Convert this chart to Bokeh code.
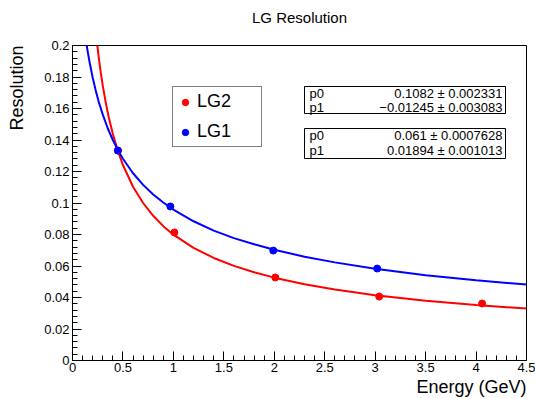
import math
from bokeh.plotting import figure
from bokeh.models import (Range1d, SingleIntervalTicker, CustomJSTickFormatter, Label,
                          BoxAnnotation, Legend, LegendItem, Title)
from bokeh.embed import file_html
from bokeh.resources import INLINE

# ---- data ----
lg2_energy = [0.45, 1.01, 2.01, 3.04, 4.06]
lg2_res = [0.1333, 0.0813, 0.0527, 0.0406, 0.0362]
lg1_energy = [0.45, 0.97, 1.99, 3.02]
lg1_res = [0.1333, 0.0978, 0.0698, 0.0584]

# fit curves
lg2_fit_energy = [0.24, 0.26, 0.28, 0.30, 0.33, 0.36, 0.40, 0.45, 0.50, 0.6, 0.7, 0.8, 0.9,
                  1.0, 1.2, 1.4, 1.6, 1.8, 2.0, 2.3, 2.6, 3.0, 3.5, 4.0, 4.5]
lg2_fit_res = [0.2034, 0.1925, 0.1829, 0.1745, 0.1636, 0.1543, 0.1438, 0.1330, 0.1241, 0.1103,
               0.1000, 0.0919, 0.0853, 0.0799, 0.0715, 0.0651, 0.0601, 0.0560, 0.0526, 0.0484,
               0.0451, 0.0415, 0.0380, 0.0352, 0.0330]
lg1_fit_energy = [0.13, 0.15, 0.17, 0.20, 0.23, 0.26, 0.30, 0.35, 0.40, 0.45, 0.50, 0.6, 0.7,
                  0.8, 0.9, 1.0, 1.2, 1.4, 1.6, 1.8, 2.0, 2.3, 2.6, 3.0, 3.5, 4.0, 4.5]
lg1_fit_res = [0.2043, 0.1964, 0.1892, 0.1797, 0.1715, 0.1643, 0.1561, 0.1473, 0.1400, 0.1336,
               0.1281, 0.1189, 0.1115, 0.1054, 0.1003, 0.0958, 0.0884, 0.0825, 0.0777, 0.0738,
               0.0703, 0.0659, 0.0623, 0.0583, 0.0542, 0.0510, 0.0482]

stats_lg1_names = ["p0", "p1"]
stats_lg1_values = ["0.1082 \u00b1 0.002331", "\u22120.01245 \u00b1 0.003083"]
stats_lg2_names = ["p0", "p1"]
stats_lg2_values = ["0.061 \u00b1 0.0007628", "0.01894 \u00b1 0.001013"]

legend_labels = ["LG2", "LG1"]
title_text = "LG Resolution"
x_title = "Energy (GeV)"
y_title = "Resolution"

FONT = "Liberation Sans"

p = figure(width=535, height=398, output_backend="svg", toolbar_location=None,
           x_range=Range1d(0, 4.5), y_range=Range1d(0, 0.2), title=None,
           min_border_left=72, min_border_top=45, min_border_right=9, min_border_bottom=38)
p.background_fill_color = "white"
p.border_fill_color = "white"
p.outline_line_color = "black"
p.outline_line_width = 1
p.xgrid.visible = False
p.ygrid.visible = False

fmt = CustomJSTickFormatter(code="return (Math.round(tick*1000)/1000).toString();")
p.xaxis.ticker = SingleIntervalTicker(interval=0.5, num_minor_ticks=5)
p.yaxis.ticker = SingleIntervalTicker(interval=0.02, num_minor_ticks=5)
for ax in (p.xaxis, p.yaxis):
    ax.formatter = fmt
    ax.major_tick_in = 9
    ax.major_tick_out = 0
    ax.minor_tick_in = 5
    ax.minor_tick_out = 0
    ax.axis_line_color = "black"
    ax.major_tick_line_color = "black"
    ax.minor_tick_line_color = "black"
    ax.major_label_text_font = FONT
    ax.major_label_text_font_size = "13px"
    ax.major_label_text_color = "black"
    ax.major_label_standoff = 3
p.xaxis.major_label_standoff = 2

# fit curves
p.line(lg2_fit_energy, lg2_fit_res, line_color="#ff0000", line_width=2)
p.line(lg1_fit_energy, lg1_fit_res, line_color="#0000ff", line_width=2)
# points
r2 = p.scatter(lg2_energy, lg2_res, size=7, fill_color="#ff0000", line_color="#ff0000")
r1 = p.scatter(lg1_energy, lg1_res, size=7, fill_color="#0000ff", line_color="#0000ff")

legend = Legend(items=[LegendItem(label=legend_labels[0], renderers=[r2]),
                       LegendItem(label=legend_labels[1], renderers=[r1])],
                location=(100, 213), padding=4, spacing=9, glyph_width=16, glyph_height=20,
                label_height=20, label_width=60, label_standoff=4, margin=0,
                border_line_color="black", border_line_width=1,
                background_fill_color="white", background_fill_alpha=1,
                label_text_font=FONT, label_text_font_size="18px", label_text_color="black")
p.add_layout(legend)

# stats boxes (screen units relative to frame bottom-left)
def stats_box(top, bottom, names, vals, rows_y):
    p.add_layout(BoxAnnotation(left=232, right=433, top=top, bottom=bottom,
                               left_units="screen", right_units="screen",
                               top_units="screen", bottom_units="screen",
                               fill_color="white", fill_alpha=1, line_color="black",
                               line_width=1, line_alpha=1))
    for n, v, yy in zip(names, vals, rows_y):
        p.add_layout(Label(x=237, y=yy, x_units="screen", y_units="screen", text=n,
                           text_font=FONT, text_font_size="13px", text_align="left",
                           text_baseline="middle", text_color="black"))
        p.add_layout(Label(x=430, y=yy, x_units="screen", y_units="screen", text=v,
                           text_font=FONT, text_font_size="13px", text_align="right",
                           text_baseline="middle", text_color="black"))

stats_box(274, 247, stats_lg1_names, stats_lg1_values, [267, 253])
stats_box(232, 202, stats_lg2_names, stats_lg2_values, [225, 210])

# titles (side panels, so they are not clipped to the frame); blank spacers push them outward
p.add_layout(Title(text=" ", standoff=10, text_font_size="2px"), "above")
p.add_layout(Title(text=title_text, align="center", vertical_align="middle", standoff=10,
                   text_font=FONT, text_font_size="15px", text_font_style="normal",
                   text_color="black"), "above")
p.add_layout(Title(text=" ", standoff=5, text_font_size="2px"), "left")
p.add_layout(Title(text=y_title, align="right", vertical_align="middle", standoff=10,
                   text_font=FONT, text_font_size="18px", text_font_style="normal",
                   text_color="black"), "left")
p.add_layout(Title(text=x_title, align="right", vertical_align="bottom", standoff=0,
                   text_font=FONT, text_font_size="18px", text_font_style="normal",
                   text_color="black"), "below")

open("out.html", "w").write(file_html(p, INLINE))
